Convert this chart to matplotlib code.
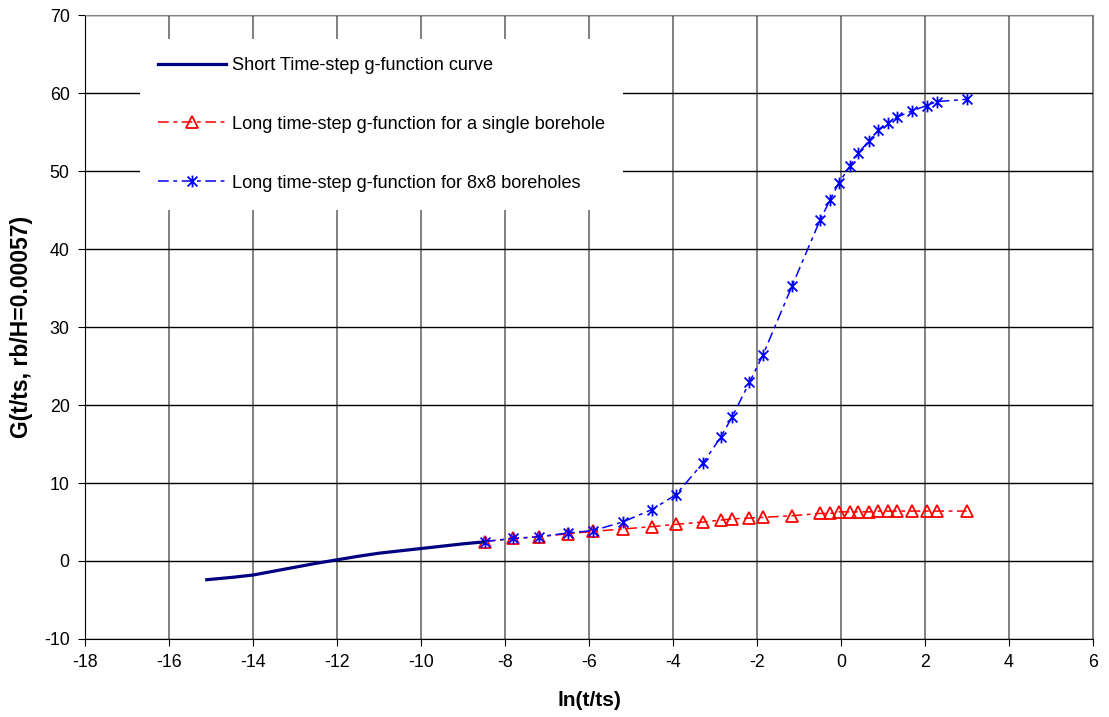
import matplotlib
matplotlib.use("Agg")
import matplotlib.pyplot as plt
from matplotlib.path import Path

plt.rcParams['font.family'] = ['Liberation Sans', 'DejaVu Sans']
plt.rcParams['axes.unicode_minus'] = False

# short time-step g-function curve
short_x = [-15.1, -14.5, -14.0, -13.5, -13.0, -12.5, -12.0, -11.5, -11.0, -10.5, -10.0, -9.5, -9.0, -8.5]
short_y = [-2.4, -2.1, -1.8, -1.3, -0.8, -0.3, 0.15, 0.6, 1.0, 1.3, 1.6, 1.9, 2.2, 2.45]

# long time-step, single borehole
single_x = [-8.48, -7.8, -7.2, -6.5, -5.9, -5.2, -4.5, -3.93, -3.28, -2.86, -2.59, -2.18, -1.86,
            -1.17, -0.5, -0.26, -0.05, 0.21, 0.41, 0.67, 0.89, 1.13, 1.33, 1.68, 2.04, 2.28, 2.99]
single_y = [2.5, 2.9, 3.1, 3.5, 3.8, 4.1, 4.4, 4.7, 5.0, 5.25, 5.4, 5.5, 5.6,
            5.8, 6.1, 6.1, 6.3, 6.3, 6.3, 6.3, 6.4, 6.4, 6.4, 6.4, 6.4, 6.4, 6.4]

# long time-step, 8x8 boreholes
field_x = single_x
field_y = [2.5, 2.9, 3.1, 3.6, 3.9, 5.0, 6.6, 8.5, 12.6, 15.9, 18.5, 22.9, 26.4,
           35.2, 43.7, 46.3, 48.5, 50.6, 52.3, 53.9, 55.2, 56.2, 56.9, 57.7, 58.4, 58.9, 59.2]

x_ticks = list(range(-18, 7, 2))
y_ticks = list(range(-10, 71, 10))

# Excel style star: X with a vertical bar
star = Path([(-1, -1), (1, 1), (-1, 1), (1, -1), (0, -1.2), (0, 1.2)],
            [Path.MOVETO, Path.LINETO, Path.MOVETO, Path.LINETO, Path.MOVETO, Path.LINETO])

fig = plt.figure(figsize=(11.09, 7.17), dpi=100)
ax = fig.add_axes([0.0766, 0.1088, 0.9090, 0.8702])

ax.plot(short_x, short_y, color='#000080', linewidth=2.3, label='Short Time-step g-function curve', zorder=4)
ax.plot(single_x, single_y, color='#ff0000', linewidth=1.1, dashes=(7, 3, 2.5, 3),
        marker='^', markersize=8.5, markerfacecolor='none', markeredgecolor='#ff0000', markeredgewidth=1.3,
        label='Long time-step g-function for a single borehole', zorder=3)
ax.plot(field_x, field_y, color='#0000ff', linewidth=1.1, dashes=(7, 3, 2.5, 3),
        marker=star, markersize=8.5, markeredgecolor='#0000ff', markeredgewidth=1.3,
        label='Long time-step g-function for 8x8 boreholes', zorder=3)

ax.set_xlim(-18, 6)
ax.set_ylim(-10, 70)
ax.set_xticks(x_ticks)
ax.set_yticks(y_ticks)
ax.tick_params(labelsize=12.8, direction='out', length=5, color='black', pad=6)

ax.xaxis.grid(True, color='#808080', linewidth=1.4)
ax.yaxis.grid(True, color='black', linewidth=1.0)
ax.set_axisbelow(True)
for s in ax.spines.values():
    s.set_color('black')
ax.spines['top'].set_color('#808080')
ax.spines['right'].set_color('#808080')

ax.set_xlabel('ln(t/ts)', fontsize=15, fontweight='bold', labelpad=14)
ax.set_ylabel('G(t/ts, rb/H=0.00057)', fontsize=16.5, fontweight='bold', labelpad=8)

leg = ax.legend(loc='upper left', bbox_to_anchor=(0.0546, 0.962), borderaxespad=0, borderpad=1.0,
                fontsize=13.1, handlelength=3.75, handletextpad=0.3, labelspacing=2.3,
                frameon=True, fancybox=False, framealpha=1)
leg.get_frame().set_facecolor('white')
leg.get_frame().set_edgecolor('none')

plt.savefig('out.png', dpi=100)
